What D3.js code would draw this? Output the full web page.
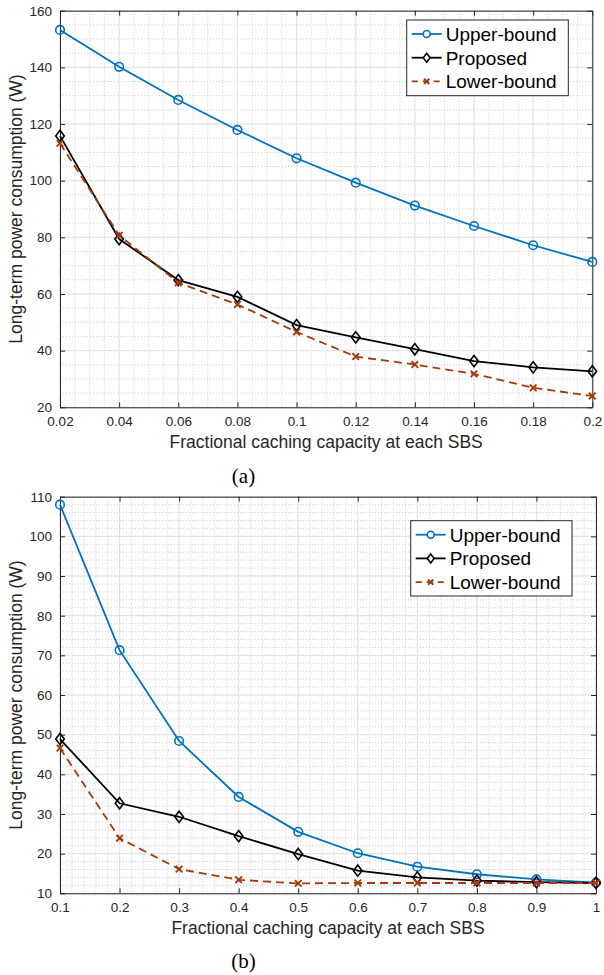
<!DOCTYPE html>
<html>
<head>
<meta charset="utf-8">
<script src="https://cdn.jsdelivr.net/npm/d3@7"></script>
<style>
  html, body { margin: 0; padding: 0; background: #fff; }
  svg { display: block; }
</style>
</head>
<body>
<svg id="chart" width="604" height="975"></svg>
<script>
// ---------- DATA ----------
const seriesNames = ["Upper-bound", "Proposed", "Lower-bound"];

// Panel (a)
const xA = [0.02, 0.04, 0.06, 0.08, 0.1, 0.12, 0.14, 0.16, 0.18, 0.2];
const upperA = [153.2, 140.2, 128.5, 117.9, 107.9, 99.3, 91.2, 84.0, 77.2, 71.3];
const proposedA = [115.8, 79.4, 64.9, 59.0, 49.0, 44.7, 40.5, 36.3, 34.1, 32.7];
const lowerA = [113.2, 80.7, 64.0, 56.3, 46.6, 37.9, 35.1, 31.8, 26.9, 24.0];
const xTicksA = [0.02, 0.04, 0.06, 0.08, 0.1, 0.12, 0.14, 0.16, 0.18, 0.2];
const xTickLabelsA = ["0.02", "0.04", "0.06", "0.08", "0.1", "0.12", "0.14", "0.16", "0.18", "0.2"];
const yTicksA = [20, 40, 60, 80, 100, 120, 140, 160];

// Panel (b)
const xB = [0.1, 0.2, 0.3, 0.4, 0.5, 0.6, 0.7, 0.8, 0.9, 1.0];
const upperB = [108.0, 71.3, 48.4, 34.3, 25.5, 20.1, 16.7, 14.8, 13.5, 12.7];
const proposedB = [48.9, 32.7, 29.3, 24.4, 19.9, 15.7, 14.0, 13.2, 12.8, 12.6];
const lowerB = [46.6, 23.9, 16.1, 13.4, 12.5, 12.6, 12.6, 12.6, 12.6, 12.6];
const xTicksB = [0.1, 0.2, 0.3, 0.4, 0.5, 0.6, 0.7, 0.8, 0.9, 1.0];
const xTickLabelsB = ["0.1", "0.2", "0.3", "0.4", "0.5", "0.6", "0.7", "0.8", "0.9", "1"];
const yTicksB = [10, 20, 30, 40, 50, 60, 70, 80, 90, 100, 110];

const xLabel = "Fractional caching capacity at each SBS";
const yLabel = "Long-term power consumption (W)";

// ---------- STYLE ----------
const colors = { upper: "#0072BD", proposed: "#000000", lower: "#A33B0B" };
const sans = "'Liberation Sans', Arial, Helvetica, sans-serif";
const serif = "'Liberation Serif', 'Times New Roman', serif";

const svg = d3.select("#chart");

function drawPanel(cfg) {
  const { left, right, top, bottom } = cfg.box;
  const x = d3.scaleLinear().domain(cfg.xDomain).range([left, right]);
  const y = d3.scaleLinear().domain(cfg.yDomain).range([bottom, top]);
  const g = svg.append("g");

  // minor grid
  const xMinor = d3.range(cfg.xDomain[0], cfg.xDomain[1] + 1e-9, cfg.xMinorStep);
  const yMinor = d3.range(cfg.yDomain[0], cfg.yDomain[1] + 1e-9, cfg.yMinorStep);
  g.append("g").selectAll("line").data(xMinor).join("line")
    .attr("x1", d => x(d)).attr("x2", d => x(d))
    .attr("y1", top).attr("y2", bottom)
    .attr("stroke", "#c4c4c4").attr("stroke-width", 0.8)
    .attr("stroke-dasharray", "1,2");
  g.append("g").selectAll("line").data(yMinor).join("line")
    .attr("y1", d => y(d)).attr("y2", d => y(d))
    .attr("x1", left).attr("x2", right)
    .attr("stroke", "#c4c4c4").attr("stroke-width", 0.8)
    .attr("stroke-dasharray", "1,2");

  // major grid
  g.append("g").selectAll("line").data(cfg.xTicks).join("line")
    .attr("x1", d => x(d)).attr("x2", d => x(d))
    .attr("y1", top).attr("y2", bottom)
    .attr("stroke", "#e3e3e3").attr("stroke-width", 1);
  g.append("g").selectAll("line").data(cfg.yTicks).join("line")
    .attr("y1", d => y(d)).attr("y2", d => y(d))
    .attr("x1", left).attr("x2", right)
    .attr("stroke", "#e3e3e3").attr("stroke-width", 1);

  // axes (inward ticks)
  const fmtX = d => cfg.xTickLabels[cfg.xTicks.indexOf(d)];
  const axB = g.append("g").attr("transform", `translate(0,${bottom})`)
    .call(d3.axisBottom(x).tickValues(cfg.xTicks).tickFormat(fmtX).tickSizeInner(-5).tickSizeOuter(0).tickPadding(9));
  const axT = g.append("g").attr("transform", `translate(0,${top})`)
    .call(d3.axisTop(x).tickValues(cfg.xTicks).tickFormat("").tickSizeInner(-5).tickSizeOuter(0));
  const axL = g.append("g").attr("transform", `translate(${left},0)`)
    .call(d3.axisLeft(y).tickValues(cfg.yTicks).tickSizeInner(-5).tickSizeOuter(0).tickPadding(8));
  const axR = g.append("g").attr("transform", `translate(${right},0)`)
    .call(d3.axisRight(y).tickValues(cfg.yTicks).tickFormat("").tickSizeInner(-5).tickSizeOuter(0));
  [axB, axT, axL, axR].forEach(a => {
    a.select(".domain").attr("stroke", "#262626").attr("stroke-width", 1);
    a.selectAll(".tick line").attr("stroke", "#262626").attr("stroke-width", 1);
    a.selectAll("text").attr("font-family", sans).attr("font-size", 13.5).attr("fill", "#262626");
  });

  // axis labels
  g.append("text").attr("x", (left + right) / 2).attr("y", bottom + 41)
    .attr("text-anchor", "middle").attr("font-family", sans).attr("font-size", 17.5)
    .attr("fill", "#262626").text(xLabel);
  g.append("text")
    .attr("transform", `translate(${cfg.yLabelX},${(top + bottom) / 2}) rotate(-90)`)
    .attr("text-anchor", "middle").attr("font-family", sans).attr("font-size", 17.5)
    .attr("fill", "#262626").text(yLabel);

  // caption
  g.append("text").attr("x", cfg.captionX).attr("y", cfg.captionY)
    .attr("text-anchor", "middle").attr("font-family", serif).attr("font-size", 21)
    .attr("fill", "#000").text(cfg.caption);

  const series = [
    { key: "upper", vals: cfg.upper, color: colors.upper, dash: null, marker: "circle" },
    { key: "proposed", vals: cfg.proposed, color: colors.proposed, dash: null, marker: "diamond" },
    { key: "lower", vals: cfg.lower, color: colors.lower, dash: "8,5", marker: "cross" }
  ];

  const line = d3.line().x(d => x(d[0])).y(d => y(d[1]));
  series.forEach(s => {
    const pts = cfg.xs.map((xv, i) => [xv, s.vals[i]]);
    g.append("path").datum(pts).attr("d", line)
      .attr("fill", "none").attr("stroke", s.color).attr("stroke-width", 1.8)
      .attr("stroke-dasharray", s.dash);
    const mg = g.append("g");
    pts.forEach(p => drawMarker(mg, s.marker, x(p[0]), y(p[1]), s.color));
  });

  // legend
  const L = cfg.legend;
  const lg = g.append("g").attr("transform", `translate(${L.x},${L.y})`);
  lg.append("rect").attr("x", 0).attr("y", 0).attr("width", L.w).attr("height", L.h)
    .attr("fill", "#fff").attr("stroke", "#262626").attr("stroke-width", 1);
  series.forEach((s, i) => {
    const cy = 14 + i * 23.7;
    lg.append("line").attr("x1", 5).attr("x2", 35).attr("y1", cy).attr("y2", cy)
      .attr("stroke", s.color).attr("stroke-width", 1.8)
      .attr("stroke-dasharray", s.dash ? "6,5" : null);
    drawMarker(lg, s.marker, 20, cy, s.color, 0.8);
    lg.append("text").attr("x", 39).attr("y", cy + 7)
      .attr("font-family", sans).attr("font-size", 19).attr("fill", "#000")
      .text(seriesNames[i]);
  });
}

function drawMarker(g, type, cx, cy, color, scale = 1) {
  if (type === "circle") {
    g.append("circle").attr("cx", cx).attr("cy", cy).attr("r", 4.3 * scale)
      .attr("fill", scale < 1 ? "#fff" : "none").attr("stroke", color).attr("stroke-width", 1.6);
  } else if (type === "diamond") {
    const w = 4.3 * scale, h = 5.6 * scale;
    g.append("path").attr("d", `M${cx},${cy - h}L${cx + w},${cy}L${cx},${cy + h}L${cx - w},${cy}Z`)
      .attr("fill", scale < 1 ? "#fff" : "none").attr("stroke", color).attr("stroke-width", 1.6);
  } else {
    const r = 3.3 * scale;
    g.append("path").attr("d", `M${cx - r},${cy - r}L${cx + r},${cy + r}M${cx - r},${cy + r}L${cx + r},${cy - r}`)
      .attr("fill", "none").attr("stroke", color).attr("stroke-width", 1.9);
  }
}

drawPanel({
  box: { left: 60, right: 592.3, top: 10.7, bottom: 407.3 },
  xDomain: [0.02, 0.2], yDomain: [20, 160],
  xMinorStep: 0.005, yMinorStep: 5,
  xTicks: xTicksA, xTickLabels: xTickLabelsA, yTicks: yTicksA,
  xs: xA, upper: upperA, proposed: proposedA, lower: lowerA,
  yLabelX: 22, caption: "(a)", captionX: 243.5, captionY: 483,
  legend: { x: 406.7, y: 20, w: 161.6, h: 75.7 }
});

drawPanel({
  box: { left: 60, right: 596, top: 496.7, bottom: 893.3 },
  xDomain: [0.1, 1.0], yDomain: [10, 110],
  xMinorStep: 0.02, yMinorStep: 2,
  xTicks: xTicksB, xTickLabels: xTickLabelsB, yTicks: yTicksB,
  xs: xB, upper: upperB, proposed: proposedB, lower: lowerB,
  yLabelX: 22, caption: "(b)", captionX: 243.5, captionY: 968,
  legend: { x: 410.7, y: 520.7, w: 161.3, h: 75.3 }
});
</script>
</body>
</html>
